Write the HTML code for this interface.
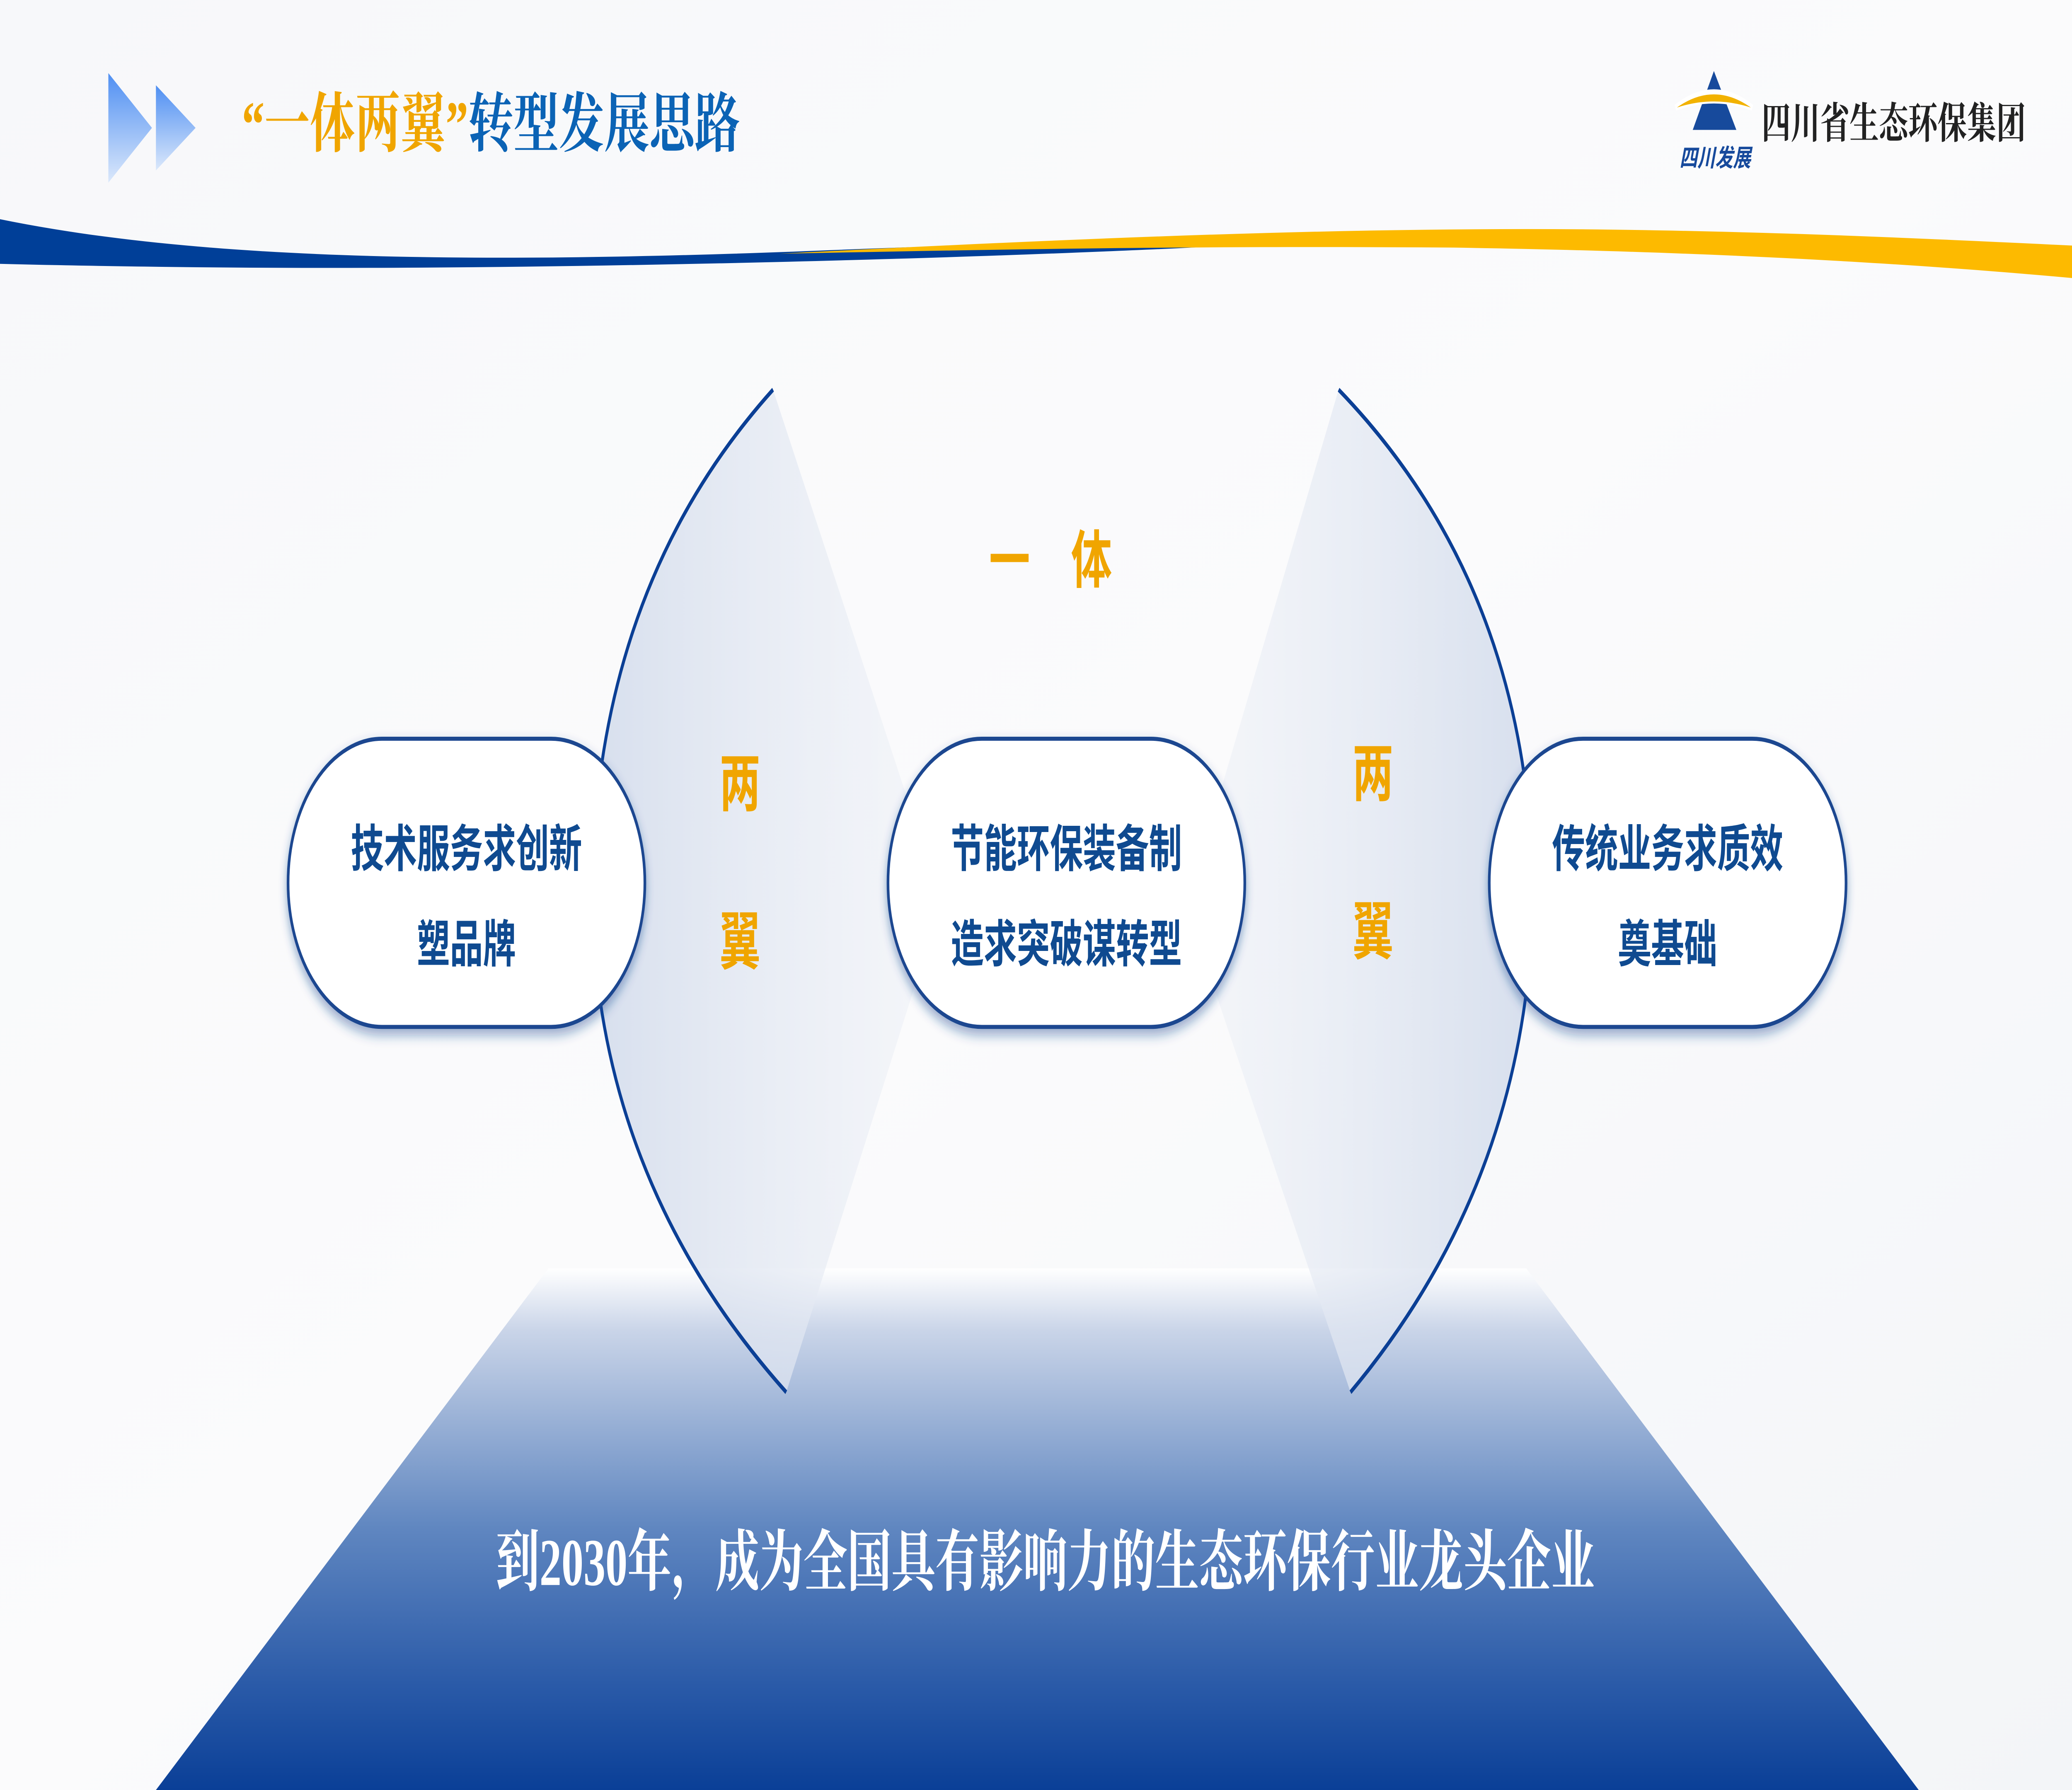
<!DOCTYPE html>
<html><head><meta charset="utf-8"><style>
html,body{margin:0;padding:0;background:#fff;overflow:hidden;width:100%;height:100%;}
svg{display:block;width:100vw;height:100vh;}
.cn{font-family:"Liberation Sans","Noto Sans CJK SC",sans-serif;font-weight:bold;}
.sf{font-family:"Liberation Serif","Noto Serif CJK SC",serif;font-weight:bold;}
</style></head><body>
<svg viewBox="0 0 1568 882" preserveAspectRatio="none" xmlns="http://www.w3.org/2000/svg">
<defs>
<linearGradient id="bg" x1="0" y1="0" x2="1" y2="1">
<stop offset="0" stop-color="#f7f8fa"/><stop offset="0.5" stop-color="#fbfbfc"/><stop offset="1" stop-color="#f3f5f8"/></linearGradient>
<linearGradient id="tri" x1="0" y1="0" x2="0" y2="1">
<stop offset="0" stop-color="#4f8ff2"/><stop offset="1" stop-color="#dbe8fb"/></linearGradient>
<linearGradient id="trap" x1="0" y1="0" x2="0" y2="1">
<stop offset="0" stop-color="#ffffff"/><stop offset="0.12" stop-color="#c9d4e8"/><stop offset="0.5" stop-color="#5f86c0"/><stop offset="0.8" stop-color="#2a5aa8"/><stop offset="1" stop-color="#0a3f97"/></linearGradient>
<linearGradient id="wingL" x1="0" y1="0" x2="1" y2="0">
<stop offset="0" stop-color="#d3dcec"/><stop offset="1" stop-color="#eef1f7" stop-opacity="0.6"/></linearGradient>
<linearGradient id="wingR" x1="1" y1="0" x2="0" y2="0">
<stop offset="0" stop-color="#d3dcec"/><stop offset="1" stop-color="#eef1f7" stop-opacity="0.6"/></linearGradient>
<filter id="sh" x="-20%" y="-20%" width="140%" height="150%">
<feDropShadow dx="0" dy="3" stdDeviation="3" flood-color="#1a4690" flood-opacity="0.45"/></filter>
</defs>
<rect width="1568" height="882" fill="url(#bg)"/>

<polygon points="415,625 1155,625 1452,882 118,882" fill="url(#trap)"/>

<polygon points="82,36 115,63 82,90" fill="url(#tri)"/>
<polygon points="118,42 148,63 118,84" fill="url(#tri)"/>
<text x="183" y="72" class="sf" font-size="32" textLength="377" lengthAdjust="spacingAndGlyphs"><tspan fill="#f0a500">“一体两翼”</tspan><tspan fill="#0b63b5">转型发展思路</tspan></text>

<!-- logo -->
<polygon points="1297,35 1314,64 1281,64" fill="#174a9c"/>
<path d="M1268,53 Q1297,38 1326,53 Q1297,46 1268,53Z" fill="#fff" stroke="#fff" stroke-width="3"/>
<path d="M1269,53 Q1297,40 1325,53 Q1297,47 1269,53Z" fill="#f2b200"/>
<text x="1271" y="82" class="cn" font-size="12" fill="#174a9c" font-style="italic" textLength="54" lengthAdjust="spacingAndGlyphs">四川发展</text>
<text x="1333" y="68" class="sf" font-size="21" fill="#222" textLength="200" lengthAdjust="spacingAndGlyphs">四川省生态环保集团</text>

<path d="M0,108 C150,128 350,130 600,124 C750,120 870,118 960,120 C800,126 500,132 250,132 C150,132 60,131 0,130Z" fill="#003f98"/>
<path d="M590,125 C800,118 1000,112 1200,113 C1350,114 1470,118 1568,121 L1568,137 C1450,130 1300,124 1100,122 C900,121 750,123 590,125Z" fill="#fdba00"/>

<path d="M585,192 L700,420 L700,470 L595,686 Q450,580 448,440 Q450,290 585,192Z" fill="url(#wingL)" opacity="0.9"/>
<path d="M585,192 Q450,290 448,440 Q450,580 595,686" fill="none" stroke="#0b3f95" stroke-width="2.2"/>
<path d="M1013,192 L910,420 L910,470 L1022,686 Q1158,580 1160,440 Q1158,290 1013,192Z" fill="url(#wingR)" opacity="0.9"/>
<path d="M1013,192 Q1158,290 1160,440 Q1158,580 1022,686" fill="none" stroke="#0b3f95" stroke-width="2.2"/>

<g filter="url(#sh)" stroke="#1a4690" stroke-width="2" fill="#fff">
<rect x="218" y="364" width="270" height="142" rx="71"/>
<rect x="672" y="364" width="270" height="142" rx="71"/>
<rect x="1127" y="364" width="270" height="142" rx="71"/>
</g>
<g class="cn" font-size="25" fill="#0f4a90" text-anchor="middle">
<text x="353" y="427">技术服务求创新</text>
<text x="353" y="474">塑品牌</text>
<text x="807" y="427">节能环保装备制</text>
<text x="807" y="474">造求突破谋转型</text>
<text x="1262" y="427">传统业务求质效</text>
<text x="1262" y="474">奠基础</text>
</g>
<g class="cn" font-size="31" fill="#f0a500" text-anchor="middle">
<text x="795" y="287">一　体</text>
<text x="560" y="397">两</text>
<text x="560" y="475">翼</text>
<text x="1039" y="392">两</text>
<text x="1039" y="470">翼</text>
</g>
<text x="375" y="781" class="sf" font-size="33" fill="#fff" textLength="832" lengthAdjust="spacingAndGlyphs">到2030年，成为全国具有影响力的生态环保行业龙头企业</text>
</svg>
</body></html>
